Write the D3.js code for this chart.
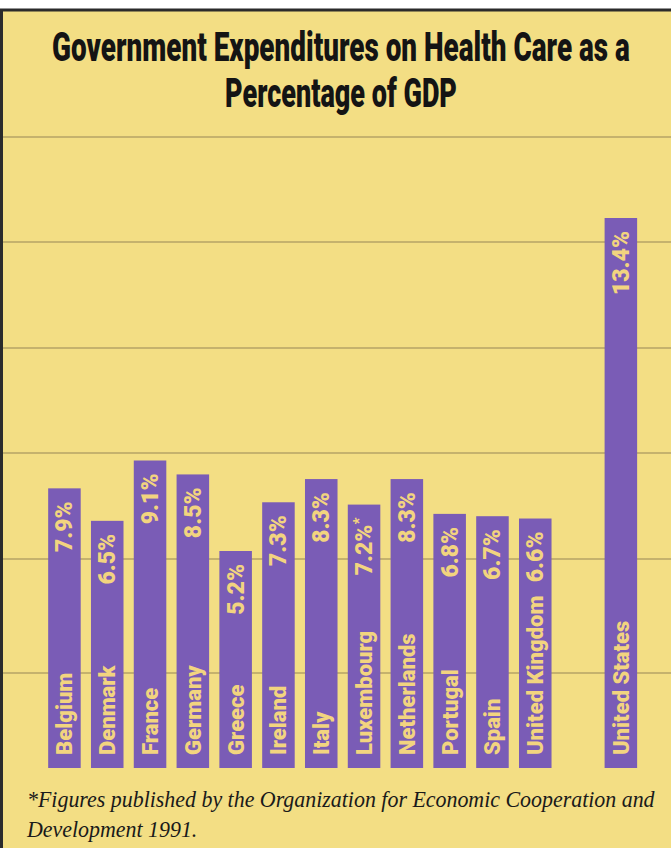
<!DOCTYPE html>
<html>
<head>
<meta charset="utf-8">
<script src="https://cdn.jsdelivr.net/npm/d3@7"></script>
<style>
  html, body { margin: 0; padding: 0; background: #ffffff; }
  svg { display: block; }
</style>
</head>
<body>
<svg id="chart" width="671" height="848"></svg>
<script>
// ---- data ----
const categories = ["Belgium", "Denmark", "France", "Germany", "Greece", "Ireland", "Italy",
  "Luxembourg", "Netherlands", "Portugal", "Spain", "United Kingdom", "United States"];
const values = [7.9, 6.5, 9.1, 8.5, 5.2, 7.3, 8.3, 7.2, 8.3, 6.8, 6.7, 6.6, 13.4];
const valueLabels = ["7.9%", "6.5%", "9.1%", "8.5%", "5.2%", "7.3%", "8.3%", "7.2%", "8.3%", "6.8%", "6.7%", "6.6%", "13.4%"];
const footnoteMarks = ["", "", "", "", "", "", "", "*", "", "", "", "", ""];
const titleLines = ["Government Expenditures on Health Care as a", "Percentage of GDP"];
const footnoteLines = ["*Figures published by the Organization for Economic Cooperation and", "Development 1991."];

// ---- layout ----
const W = 671, H = 848;
const svg = d3.select("#chart");
const bg = "#f3de84", barColor = "#7a5cb6", labelColor = "#f2d47f", gridColor = "#8a7850";

// page + frame
svg.append("rect").attr("x", 0).attr("y", 0).attr("width", W).attr("height", H).attr("fill", "#ffffff");
svg.append("rect").attr("x", 0).attr("y", 9).attr("width", W).attr("height", H - 9).attr("fill", bg);
svg.append("line").attr("x1", 0).attr("x2", W).attr("y1", 10).attr("y2", 10)
  .attr("stroke", "#2b2b2b").attr("stroke-width", 3);
svg.append("line").attr("x1", 1.5).attr("x2", 1.5).attr("y1", 9).attr("y2", H)
  .attr("stroke", "#2b2b2b").attr("stroke-width", 3);

// horizontal rules (decorative, the chart has no value axis)
const ruleYs = [137, 242, 348, 453, 559, 673];
svg.append("g").selectAll("line").data(ruleYs).join("line")
  .attr("x1", 3).attr("x2", W).attr("y1", d => d).attr("y2", d => d)
  .attr("stroke", gridColor).attr("stroke-width", 1.2).attr("opacity", 0.85);

// title: heavy, horizontally condensed
const titleWidths = [578, 232];
const tg = svg.append("g");
titleLines.forEach((t, i) => {
  const g = tg.append("g").attr("transform", `translate(341,${61 + i * 46})`);
  const el = g.append("text")
    .attr("text-anchor", "middle")
    .attr("font-family", "Roboto, 'DejaVu Sans', sans-serif")
    .attr("font-weight", 900).attr("font-size", 41).attr("fill", "#141414")
    .text(t);
  const k = titleWidths[i] / el.node().getComputedTextLength();
  el.attr("transform", `scale(${k},1)`);
});

// scales
const domain = categories.slice(0, 12).concat(["__gap__"], categories.slice(12));
const x = d3.scaleBand().domain(domain).range([37.9, 647.4]).paddingInner(0.24).paddingOuter(0.24);
// the original's bars are not drawn to one linear scale (the US bar is exaggerated),
// so a piecewise-linear scale reproduces the drawn lengths
const y = d3.scaleLinear().domain([-4.15, 9.1, 13.4]).range([768, 460.5, 218]);

const rows = categories.map((c, i) => ({ c, v: values[i], lab: valueLabels[i], mark: footnoteMarks[i] }));

const bars = svg.append("g");
bars.selectAll("rect").data(rows).join("rect")
  .attr("x", d => x(d.c)).attr("width", x.bandwidth())
  .attr("y", d => y(d.v)).attr("height", d => y.range()[0] - y(d.v))
  .attr("fill", barColor);

// country labels (rotated, bottom of bar)
const fontLab = "Roboto, 'DejaVu Sans', sans-serif";
bars.selectAll("text.cat").data(rows).join("text").attr("class", "cat")
  .attr("transform", d => `translate(${x(d.c) + x.bandwidth() / 2 + 8},755) rotate(-90)`)
  .attr("text-anchor", "start")
  .attr("font-family", fontLab).attr("font-weight", 900).attr("font-size", 22)
  .attr("fill", labelColor)
  .text(d => d.c);

// value labels (rotated, top of bar)
const vl = bars.selectAll("text.val").data(rows).join("text").attr("class", "val")
  .attr("transform", d => `translate(${x(d.c) + x.bandwidth() / 2 + 8},${y(d.v) + 13}) rotate(-90)`)
  .attr("text-anchor", "end")
  .attr("font-family", fontLab).attr("font-weight", 900).attr("font-size", 23)
  .attr("fill", labelColor);
vl.append("tspan").text(d => d.lab);
vl.append("tspan").attr("font-size", 15).attr("dy", -8).text(d => d.mark);

// footnote: italic serif, condensed to the reference width
const fg = svg.append("g");
let squeeze = null;
footnoteLines.forEach((t, i) => {
  const el = fg.append("text")
    .attr("font-family", "'Liberation Serif', 'DejaVu Serif', serif")
    .attr("font-style", "italic").attr("font-size", 24).attr("fill", "#1a1a1a")
    .text(t);
  if (squeeze === null) squeeze = 628 / el.node().getComputedTextLength();
  el.attr("transform", `translate(27,${807 + i * 30}) scale(${squeeze},1)`);
});
</script>
</body>
</html>
